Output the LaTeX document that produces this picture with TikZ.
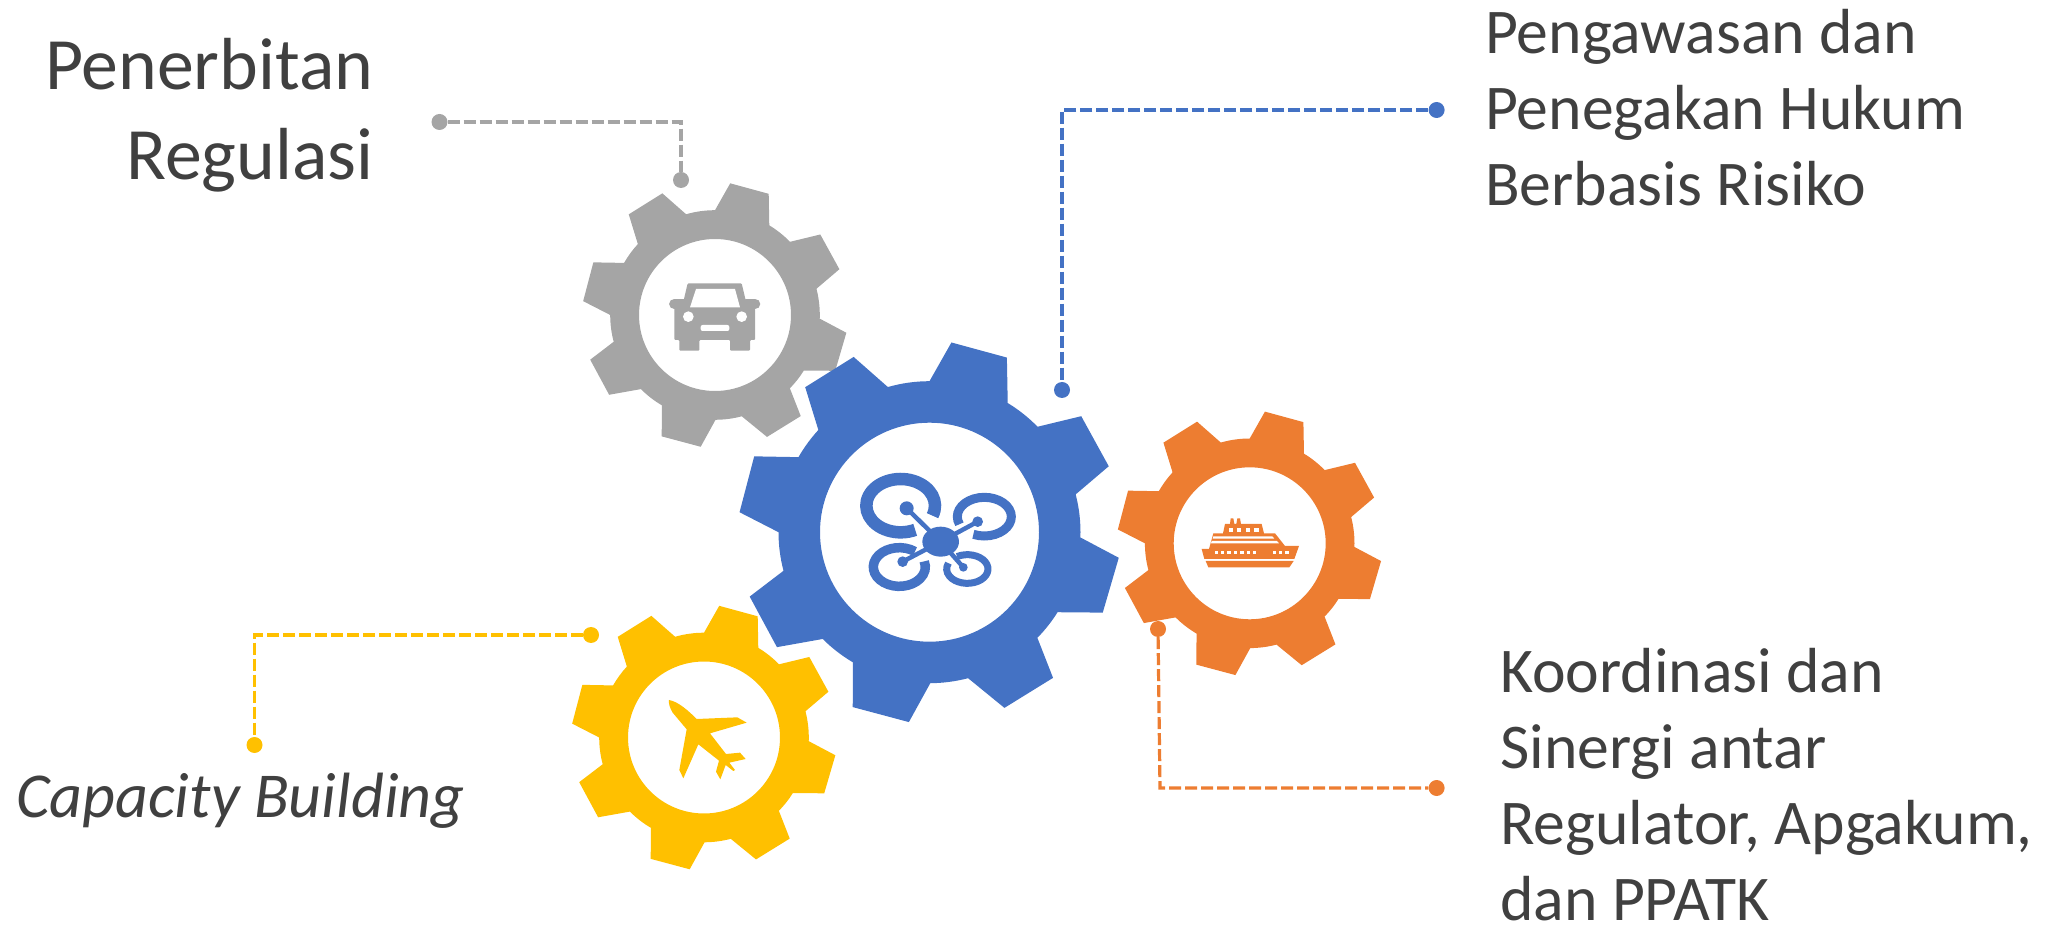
\documentclass[tikz,border=0pt]{standalone}
\usepackage{fontspec}
\setmainfont{Carlito}
\definecolor{cgray}{HTML}{A5A5A5}
\definecolor{cblue}{HTML}{4472C4}
\definecolor{corange}{HTML}{ED7D31}
\definecolor{cyellow}{HTML}{FFC000}
\definecolor{ctext}{HTML}{404040}
\newcommand{\gearshape}[4]{%
  \fill[#4,even odd rule,shift={(#1,930-#2)},scale=#3]
    (90:151)
    \foreach \pa/\pb/\pc/\pe in {
      83.4/66.1/58.8/44.3,
      37.4/20.2/14.5/-2,
      -7.7/-24.9/-32/-44.4,
      -49.7/-66.9/-75.2/-89.7,
      -96.2/-113.7/-120.5/-135,
      -143/-160.3/-165.2/-180,
      -186/-203.4/-209.8/-222.6,
      -229.4/-246.6/-254/-270} {
      -- (\pa:191) -- (\pb:191) -- (\pc:151)
      arc[start angle=\pc,end angle=\pe,radius=151]
    } -- cycle (0,0) circle[radius=109.5];
}
\tikzset{
  x=1pt,y=1pt,
  dotnode/.style={circle,fill=#1,inner sep=0pt,minimum size=16pt},
  conn/.style={draw=#1,line width=3.2pt,dash pattern=on 12pt off 4pt},
  bigtext/.style={text=ctext,font=\fontsize{73.8}{90}\selectfont,align=right},
  midtext/.style={text=ctext,font=\fontsize{63.7}{76}\selectfont,align=left},
  ittext/.style={text=ctext,font=\fontsize{64}{72}\selectfont\itshape},
  zoomed/.style n args={2}{shift={(#1,930-#2)},xscale=1/3,yscale=-1/3},
  ring/.style={draw=cblue,line width=#1,line cap=butt},
}
\begin{document}
\begin{tikzpicture}
\useasboundingbox (0,0) rectangle (2057,930);
% gears
\gearshape{715}{315}{0.694}{cgray}
\gearshape{1249.7}{543.3}{0.694}{corange}
\gearshape{704}{737.5}{0.694}{cyellow}
\gearshape{929.5}{532.2}{1}{cblue}
% car
\begin{scope}[zoomed={660}{275}]
  \fill[cgray,rounded corners=1pt] (83,25) -- (245,25) -- (258,80) -- (285,100) -- (285,195) -- (270,195) -- (270,227) -- (210,227) -- (210,195) -- (118,195) -- (118,227) -- (58,227) -- (58,195) -- (43,195) -- (43,100) -- (70,80) -- cycle;
  \draw[cgray,line width=10.5pt,line cap=round] (43,87) -- (70,87) (258,87) -- (285,87);
  \fill[white] (108,42) -- (225,42) -- (240,97) -- (90,97) -- cycle;
  \fill[white] (85,125) circle[radius=16] (245,125) circle[radius=16];
  \fill[white,rounded corners=2pt] (122,150) rectangle (208,168);
\end{scope}
% ship
\begin{scope}[zoomed={1195}{510}]
  \fill[corange] (105,42) -- (107,25) -- (115,25) -- (118,42) -- (124,42) -- (127,25) -- (135,25) -- (138,42) -- (200,42) -- (207,70) -- (240,70) -- (270,108) -- (312,108) -- (298,147) -- (28,147) -- (20,117) -- (42,117) -- (55,70) -- (84,70) -- (90,42) -- cycle;
  \fill[corange] (32,153) -- (296,153) -- (283,172) -- (40,172) -- cycle;
  \fill[white] (55,79) -- (232,79) -- (238,86) -- (53,86) -- cycle;
  \fill[white] (50,93) -- (246,93) -- (252,100) -- (48,100) -- cycle;
  \foreach \x in {107,132,158,184} \fill[white] (\x-6.5,53) rectangle (\x+6.5,66);
  \foreach \x in {64,82,102,122,141,160,179,239,257,276} \fill[white] (\x-5,123) rectangle (\x+5,133);
\end{scope}
% plane
\begin{scope}[zoomed={650}{690}]
  \fill[cyellow] (57,30) .. controls (85,35) and (115,62) .. (140,87) -- (262,82) -- (290,98) -- (180,130) -- (228,192) -- (270,188) -- (287,207) -- (238,218) -- (255,240) -- (250,243) -- (227,225) -- (211,268) -- (198,245) -- (207,212) -- (145,163) -- (100,265) -- (88,240) -- (110,118) -- (68,68) .. controls (60,55) and (55,40) .. (57,30) -- cycle;
\end{scope}
% drone
\begin{scope}[zoomed={850}{465}]
  \draw[ring=12.5pt] (152,122) ++(22:103 and 80) arc[start angle=22,end angle=-295,x radius=103,y radius=80];
  \draw[ring=9pt] (403,155) ++(157:81 and 58) arc[start angle=157,end angle=474,x radius=81,y radius=58];
  \draw[ring=9.5pt] (148,306) ++(-53:78 and 58) arc[start angle=-53,end angle=-377,x radius=78,y radius=58];
  \draw[ring=7pt] (352,312) ++(240:62 and 43) arc[start angle=240,end angle=564,x radius=62,y radius=43];
  \fill[cblue] (272,230) ellipse[x radius=55,y radius=45];
  \draw[cblue,line width=4.5pt] (272,230) -- (170,130) (272,230) -- (383,170) (272,230) -- (158,290) (272,230) -- (340,307);
  \fill[cblue] (170,130) circle[radius=21] (383,170) circle[radius=16] (158,290) circle[radius=16] (340,307) circle[radius=13];
\end{scope}
% connectors
\node[dotnode=cgray] (ga) at (439.5,930-122) {};
\node[dotnode=cgray] (gb) at (681,930-180) {};
\node[dotnode=cblue] (ba) at (1436.6,930-110) {};
\node[dotnode=cblue] (bb) at (1062,930-390) {};
\node[dotnode=corange] (oa) at (1158,930-629) {};
\node[dotnode=corange] (ob) at (1436.6,930-788) {};
\node[dotnode=cyellow] (ya) at (591,930-635) {};
\node[dotnode=cyellow] (yb) at (254.5,930-745) {};
\coordinate (oc) at (1160,930-788);
\draw[conn=cgray] (ga) -| (gb);
\draw[conn=cblue] (ba) -| (bb);
\draw[conn=corange] (oa) -- (oc) -- (ob);
\draw[conn=cyellow] (ya) -| (yb);
% labels
\node[bigtext,anchor=east,inner sep=0pt] (t1) at (373.5,930-115) {Penerbitan\\Regulasi};
\node[midtext,anchor=west,inner sep=0pt] (t2) at (1485,930-108) {Pengawasan dan\\Penegakan Hukum\\Berbasis Risiko};
\node[midtext,anchor=west,inner sep=0pt] (t3) at (1500,930-785) {Koordinasi dan\\Sinergi antar\\Regulator, Apgakum,\\dan PPATK};
\node[ittext,anchor=west,inner sep=0pt] (t4) at (16,930-801) {Capacity Building};
\end{tikzpicture}
\end{document}
